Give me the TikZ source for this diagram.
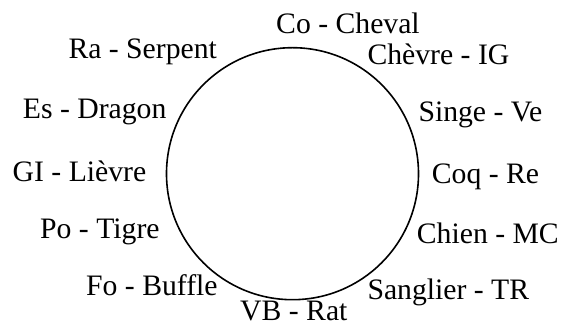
\documentclass[tikz,border=0pt]{standalone}
\usepackage{fontspec}
\setmainfont{Liberation Serif}
\begin{document}
\begin{tikzpicture}[x=1pt,y=-1pt,
  lbl/.style={anchor=base west,inner sep=0pt,font=\fontsize{29.7}{34}\selectfont},
  ring/.style={draw=black,line width=1.6pt}]
\useasboundingbox (0,0) rectangle (563,328);
\node[ring,circle,minimum size=252pt,inner sep=0pt] (c) at (292.5,173.7) {};
\node[lbl] (co) at (276,33.5) {Co - Cheval};
\node[lbl] (chevre) at (367.3,65) {Chèvre - IG};
\node[lbl] (singe) at (418.3,121.7) {Singe - Ve};
\node[lbl] (coq) at (431.7,183.3) {Coq - Re};
\node[lbl] (chien) at (416.7,243.3) {Chien - MC};
\node[lbl] (sanglier) at (367.3,300) {Sanglier - TR};
\node[lbl] (vb) at (240,320.5) {VB - Rat};
\node[lbl] (fo) at (86,296) {Fo - Buffle};
\node[lbl] (po) at (40,238.3) {Po - Tigre};
\node[lbl] (gi) at (12.5,181.3) {GI - Lièvre};
\node[lbl] (es) at (22.7,118.3) {Es - Dragon};
\node[lbl] (ra) at (68.3,58.3) {Ra - Serpent};
\end{tikzpicture}
\end{document}
